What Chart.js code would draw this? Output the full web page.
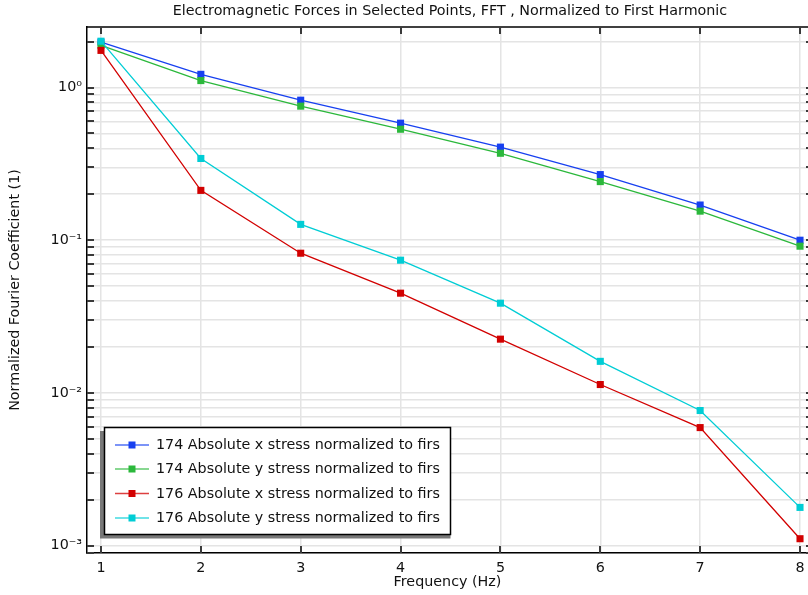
<!DOCTYPE html>
<html>
<head>
<meta charset="utf-8">
<script src="https://cdn.jsdelivr.net/npm/chart.js@4/dist/chart.umd.min.js"></script>
<style>
  html, body { margin: 0; padding: 0; background: #fff; }
  #wrap { width: 808px; height: 595px; }
</style>
</head>
<body>
<div id="wrap"><canvas id="chart" width="808" height="595"></canvas></div>
<script>
// data
const freq = [1, 2, 3, 4, 5, 6, 7, 8];
const x174 = [1.98, 1.22, 0.826, 0.584, 0.407, 0.269, 0.170, 0.100];
const y174 = [1.89, 1.11, 0.755, 0.533, 0.371, 0.242, 0.155, 0.0914];
const x176 = [1.75, 0.212, 0.0822, 0.045, 0.0225, 0.01135, 0.00593, 0.00111];
const y176 = [2.01, 0.343, 0.127, 0.074, 0.0387, 0.0161, 0.00767, 0.00178];

const seriesNames = [
  '174 Absolute x stress normalized to firs',
  '174 Absolute y stress normalized to firs',
  '176 Absolute x stress normalized to firs',
  '176 Absolute y stress normalized to firs'
];
const seriesColors = ['#1740f0', '#2bb83b', '#d20000', '#00cdd5'];

const xTicks = [1, 2, 3, 4, 5, 6, 7, 8];
const yDecades = [1, 0.1, 0.01, 0.001];
const yTickLabels = ['10\u2070', '10\u207B\u00B9', '10\u207B\u00B2', '10\u207B\u00B3'];

const titleText = 'Electromagnetic Forces in Selected Points, FFT , Normalized to First Harmonic';
const xTitle = 'Frequency (Hz)';
const yTitle = 'Normalized Fourier Coefficient (1)';

const FONT = '"DejaVu Sans", sans-serif';
const FS = 14.3;
const Y_MIN = 0.000895, Y_MAX = 2.49;

// minor + major y tick values for the log grid
const yGridValues = [];
[1e-4, 1e-3, 1e-2, 1e-1, 1].forEach((d) => {
  for (let k = 1; k <= 9; k++) {
    const v = d * k;
    if (v >= Y_MIN && v <= Y_MAX) yGridValues.push(v);
  }
});

const makeSet = (idx, values, order) => ({
  label: seriesNames[idx],
  data: freq.map((f, i) => ({ x: f, y: values[i] })),
  borderColor: seriesColors[idx],
  backgroundColor: seriesColors[idx],
  borderWidth: 1.3,
  pointStyle: 'rect',
  pointRadius: 5,
  pointBorderWidth: 0,
  pointHoverRadius: 5,
  tension: 0,
  order: order
});

// title, axis titles, inward ticks, top border and legend
const decorPlugin = {
  id: 'decor',
  afterDraw(chart) {
    const ctx = chart.ctx;
    const a = chart.chartArea;
    const xs = chart.scales.x, ys = chart.scales.y;
    ctx.save();

    // top border
    ctx.strokeStyle = '#000';
    ctx.lineWidth = 1.5;
    ctx.beginPath();
    ctx.moveTo(a.left, a.top);
    ctx.lineTo(a.right, a.top);
    ctx.stroke();

    // inward ticks
    ctx.strokeStyle = '#3a3a3a';
    ctx.lineWidth = 2;
    ctx.beginPath();
    xTicks.forEach((t) => {
      const px = Math.round(xs.getPixelForValue(t));
      ctx.moveTo(px, a.bottom);
      ctx.lineTo(px, a.bottom - 7);
      ctx.moveTo(px, a.top);
      ctx.lineTo(px, a.top + 7);
    });
    yGridValues.forEach((v) => {
      const py = Math.round(ys.getPixelForValue(v));
      ctx.moveTo(a.left, py);
      ctx.lineTo(a.left + 7, py);
      ctx.moveTo(a.right, py);
      ctx.lineTo(a.right - 2, py);
    });
    ctx.stroke();

    // texts
    ctx.fillStyle = '#111';
    ctx.font = FS + 'px ' + FONT;
    ctx.textAlign = 'center';
    ctx.textBaseline = 'middle';
    ctx.fillText(titleText, 450, 11);
    ctx.fillText(xTitle, (a.left + a.right) / 2, 582);
    ctx.save();
    ctx.translate(15, (a.top + a.bottom) / 2);
    ctx.rotate(-Math.PI / 2);
    ctx.fillText(yTitle, 0, 0);
    ctx.restore();

    // legend box with shadow
    const bx = 104.5, by = 427.5, bw = 346, bh = 107;
    ctx.fillStyle = '#787878';
    ctx.fillRect(100, 431, 350.5, 107.5);
    ctx.fillStyle = '#fff';
    ctx.fillRect(bx, by, bw, bh);
    ctx.strokeStyle = '#000';
    ctx.lineWidth = 1.5;
    ctx.strokeRect(bx, by, bw, bh);

    const rows = [445, 469, 493.5, 518];
    ctx.textAlign = 'left';
    seriesNames.forEach((name, i) => {
      const y = rows[i];
      ctx.strokeStyle = seriesColors[i];
      ctx.globalAlpha = 0.75;
      ctx.lineWidth = 1.6;
      ctx.beginPath();
      ctx.moveTo(115, y);
      ctx.lineTo(149, y);
      ctx.stroke();
      ctx.globalAlpha = 1;
      ctx.fillStyle = seriesColors[i];
      ctx.fillRect(128.5, y - 3.5, 7, 7);
      ctx.fillStyle = '#111';
      ctx.fillText(name, 156, y + 0.5);
    });
    ctx.restore();
  }
};

new Chart(document.getElementById('chart').getContext('2d'), {
  type: 'line',
  data: {
    datasets: [
      makeSet(0, x174, 4),
      makeSet(1, y174, 3),
      makeSet(2, x176, 2),
      makeSet(3, y176, 1)
    ]
  },
  options: {
    responsive: false,
    animation: false,
    layout: { autoPadding: false, padding: { top: 27, left: 0, right: 0, bottom: 0 } },
    plugins: {
      legend: { display: false },
      title: { display: false },
      tooltip: { enabled: false }
    },
    scales: {
      x: {
        type: 'linear',
        min: 0.86,
        max: 8.08,
        afterBuildTicks: (scale) => {
          scale.ticks = xTicks.map((v) => ({ value: v }));
        },
        afterFit: (scale) => {
          scale.height = 42;
          scale.paddingLeft = 0;
          scale.paddingRight = 0;
        },
        grid: { color: '#e4e4e4', lineWidth: 1.5, drawTicks: false },
        border: { color: '#000', width: 1.5 },
        ticks: {
          padding: 7,
          color: '#111',
          font: { family: FONT, size: FS },
          maxRotation: 0,
          callback: (v) => String(v)
        }
      },
      y: {
        type: 'logarithmic',
        min: Y_MIN,
        max: Y_MAX,
        afterBuildTicks: (scale) => {
          scale.ticks = yGridValues.map((v) => ({ value: v }));
        },
        afterFit: (scale) => {
          scale.width = 87;
          scale.paddingTop = 0;
          scale.paddingBottom = 0;
        },
        grid: { color: '#e4e4e4', lineWidth: 1.5, drawTicks: false },
        border: { color: '#000', width: 1.5 },
        ticks: {
          padding: 5,
          color: '#111',
          font: { family: FONT, size: FS },
          autoSkip: false,
          callback: (v) => {
            const idx = yDecades.findIndex((d) => Math.abs(v / d - 1) < 1e-6);
            return idx >= 0 ? yTickLabels[idx] : '';
          }
        }
      }
    }
  },
  plugins: [decorPlugin]
});
</script>
</body>
</html>
